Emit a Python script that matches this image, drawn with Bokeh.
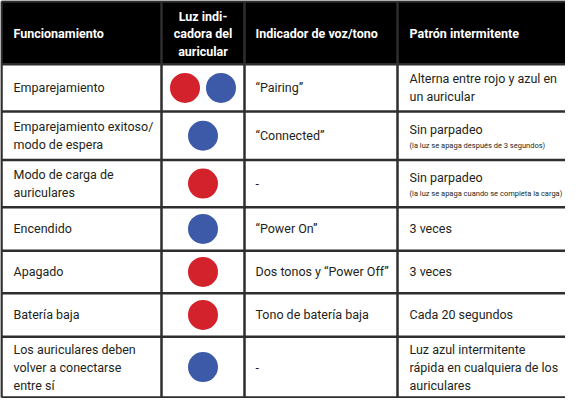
from bokeh.plotting import figure
from bokeh.models import ColumnDataSource, Range1d
from bokeh.core.properties import value
from bokeh.embed import file_html
from bokeh.resources import INLINE

# ---------------- data ----------------
headers = ["Funcionamiento", "Luz indi-\ncadora del\nauricular",
           "Indicador de voz/tono", "Patrón intermitente"]
funcionamiento = ["Emparejamiento",
                  "Emparejamiento exitoso/\nmodo de espera",
                  "Modo de carga de\nauriculares",
                  "Encendido",
                  "Apagado",
                  "Batería baja",
                  "Los auriculares deben\nvolver a conectarse\nentre sí"]
luz = [["rojo", "azul"], ["azul"], ["rojo"], ["azul"], ["rojo"], ["rojo"], ["azul"]]
indicador = ["“Pairing”", "“Connected”", "-", "“Power On”",
             "Dos tonos y “Power Off”", "Tono de batería baja", "-"]
patron = ["Alterna entre rojo y azul en\nun auricular",
          "Sin parpadeo", "Sin parpadeo", "3 veces", "3 veces",
          "Cada 20 segundos",
          "Luz azul intermitente\nrápida en cualquiera de los\nauriculares"]
patron_nota = ["", "(la luz se apaga después de 3 segundos)",
               "(la luz se apaga cuando se completa la carga)", "", "", "", ""]

# ---------------- layout / style ----------------
col_edges = [6, 166, 249, 402, 581]
row_edges = [3, 68, 117, 167, 216, 261, 305, 350, 413]
color_map = {"rojo": "#d3222b", "azul": "#3c5aa8"}
FONT = "Roboto"
line_col = "#2e2e2e"
BODY = "12.5px"

p = figure(width=565, height=398, x_range=Range1d(5, 570), y_range=Range1d(414, 2),
           output_backend="svg", toolbar_location=None,
           x_axis_type=None, y_axis_type=None, min_border=0)
p.grid.visible = False
p.outline_line_color = None
p.background_fill_color = "white"

# header background
p.quad(left=col_edges[0], right=col_edges[-1], top=row_edges[0], bottom=row_edges[1],
       fill_color="black", line_color=None)

# header text
h_src = ColumnDataSource(dict(
    x=[col_edges[0] + 12, (col_edges[1] + col_edges[2]) / 2,
       col_edges[2] + 11, col_edges[3] + 12],
    y=[(row_edges[0] + row_edges[1]) / 2 + 1] * 4,
    t=headers,
    align=["left", "center", "left", "left"],
))
p.text(x="x", y="y", text="t", source=h_src, text_color="white",
       text_font=value(FONT), text_font_style="bold", text_font_size="12.5px",
       text_align="align", text_baseline="middle", text_line_height=1.15)

# body
n = len(funcionamiento)
centers = [(row_edges[i + 1] + row_edges[i + 2]) / 2 for i in range(n)]

body_src = ColumnDataSource(dict(x=[col_edges[0] + 12] * n, y=centers, t=funcionamiento))
p.text(x="x", y="y", text="t", source=body_src, text_color="#231f20",
       text_font=value(FONT), text_font_size=BODY, text_align="left",
       text_baseline="middle", text_line_height=1.2)

ind_src = ColumnDataSource(dict(x=[col_edges[2] + 11] * n, y=centers, t=indicador))
p.text(x="x", y="y", text="t", source=ind_src, text_color="#231f20",
       text_font=value(FONT), text_font_size=BODY, text_align="left",
       text_baseline="middle", text_line_height=1.2)

pat_y = [c - 6 if nota else c for c, nota in zip(centers, patron_nota)]
pat_src = ColumnDataSource(dict(x=[col_edges[3] + 12] * n, y=pat_y, t=patron))
p.text(x="x", y="y", text="t", source=pat_src, text_color="#231f20",
       text_font=value(FONT), text_font_size=BODY, text_align="left",
       text_baseline="middle", text_line_height=1.2)

nota_idx = [i for i in range(n) if patron_nota[i]]
nota_src = ColumnDataSource(dict(x=[col_edges[3] + 12] * len(nota_idx),
                                 y=[centers[i] + 10 for i in nota_idx],
                                 t=[patron_nota[i] for i in nota_idx]))
p.text(x="x", y="y", text="t", source=nota_src, text_color="#231f20",
       text_font=value(FONT), text_font_size="7.5px", text_align="left",
       text_baseline="middle")

# circles
cx, cy, cc = [], [], []
mid = (col_edges[1] + col_edges[2]) / 2
for i, colors in enumerate(luz):
    k = len(colors)
    for j, c in enumerate(colors):
        off = (j - (k - 1) / 2) * 36
        cx.append(mid + off)
        cy.append(centers[i])
        cc.append(color_map[c])
p.scatter(x=cx, y=cy, size=30, fill_color=cc, line_color=None)

# grid lines
vx = col_edges[:-1]
p.segment(x0=vx, y0=[row_edges[0]] * len(vx), x1=vx, y1=[row_edges[-1]] * len(vx),
          line_color=line_col, line_width=2.5)
p.segment(x0=[col_edges[0]] * len(row_edges), y0=row_edges,
          x1=[col_edges[-1]] * len(row_edges), y1=row_edges,
          line_color=line_col, line_width=2.5)

open("out.html", "w").write(file_html(p, INLINE))
